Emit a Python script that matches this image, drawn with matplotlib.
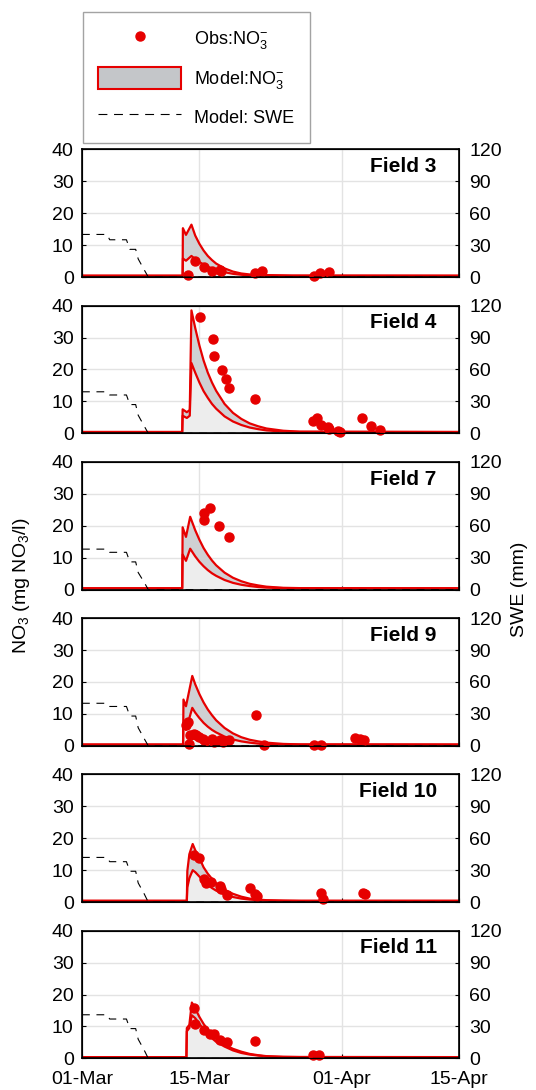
"""Nitrate in snowmelt runoff: observations, modelled band and SWE for six fields."""

import matplotlib

matplotlib.use("Agg")
import matplotlib.pyplot as plt
from matplotlib.lines import Line2D
from matplotlib.patches import Patch

plt.rcParams["font.family"] = ["Liberation Sans", "DejaVu Sans"]
plt.rcParams["mathtext.fontset"] = "custom"
plt.rcParams["mathtext.rm"] = "Liberation Sans"
plt.rcParams["mathtext.it"] = "Liberation Sans:italic"
plt.rcParams["mathtext.bf"] = "Liberation Sans:bold"

# days since 01-Mar
date_ticks = [0, 14, 31, 45]
date_labels = ["01-Mar", "15-Mar", "01-Apr", "15-Apr"]

field_names = ["Field 3", "Field 4", "Field 7", "Field 9", "Field 10", "Field 11"]

# modelled NO3 band (upper / lower edge), mg NO3/l
t3 = [0, 12.0, 12.03, 12.4, 13.05, 13.5, 14, 14.5, 15, 15.5, 16, 17, 18, 19, 20, 22, 25, 45]
up3 = [0.4, 0.4, 15.3, 13.2, 16.4, 13.0, 10.4, 8.3, 6.6, 5.3, 4.2, 2.7, 1.7, 1.1, 0.8, 0.6, 0.45, 0.4]
lo3 = [0.4, 0.4, 5.8, 5.1, 6.6, 5.6, 4.7, 3.9, 3.2, 2.7, 2.2, 1.5, 1.0, 0.7, 0.55, 0.45, 0.4, 0.4]

t4 = [0, 11.95, 12.0, 12.5, 12.85, 13.05, 13.5, 14, 14.5, 15, 15.5, 16, 17, 18, 19, 20, 21, 22, 24, 26, 45]
up4 = [0.4, 0.4, 7.5, 6.6, 7.3, 38.5, 33.0, 27.5, 22.8, 19.0, 15.9, 13.3, 9.2, 6.4, 4.5, 3.1, 2.2, 1.5, 0.8, 0.5, 0.4]
lo4 = [0.4, 0.4, 5.5, 4.8, 5.5, 22.0, 19.0, 15.9, 13.2, 11.1, 9.2, 7.7, 5.3, 3.7, 2.6, 1.8, 1.3, 0.9, 0.55, 0.45, 0.4]

t7 = [0, 11.95, 12.0, 12.4, 12.9, 13.5, 14, 14.5, 15, 15.5, 16, 17, 18, 19, 20, 21, 22, 24, 26, 45]
up7 = [0.4, 0.4, 19.5, 16.5, 22.8, 18.6, 15.6, 13.0, 10.9, 9.1, 7.6, 5.3, 3.7, 2.6, 1.8, 1.3, 0.9, 0.55, 0.45, 0.4]
lo7 = [0.4, 0.4, 11.0, 9.0, 12.8, 10.4, 8.7, 7.3, 6.1, 5.1, 4.3, 3.0, 2.1, 1.5, 1.1, 0.8, 0.6, 0.45, 0.4, 0.4]

t9 = [0, 12.05, 12.1, 12.4, 13.15, 13.5, 14, 14.5, 15, 15.5, 16, 17, 18, 19, 20, 21, 22, 24, 26, 45]
up9 = [0.4, 0.4, 14.5, 12.4, 21.9, 19.3, 16.2, 13.6, 11.4, 9.6, 8.0, 5.6, 3.9, 2.7, 1.9, 1.4, 1.0, 0.6, 0.45, 0.4]
lo9 = [0.4, 0.4, 7.2, 5.0, 11.9, 10.4, 8.7, 7.2, 6.0, 5.0, 4.2, 2.9, 2.0, 1.4, 1.0, 0.7, 0.55, 0.45, 0.4, 0.4]

t10 = [0, 12.5, 12.56, 12.8, 13.2, 13.5, 14, 14.5, 15, 15.5, 16, 17, 18, 19, 20, 21, 22, 24, 26, 45]
up10 = [0.4, 0.4, 9.7, 15.0, 18.2, 16.3, 13.8, 10.9, 8.9, 7.3, 5.9, 3.9, 2.6, 1.7, 1.1, 0.8, 0.6, 0.45, 0.4, 0.4]
lo10 = [0.4, 0.4, 4.6, 7.5, 10.0, 9.4, 8.0, 6.6, 5.4, 4.4, 3.6, 2.4, 1.6, 1.1, 0.8, 0.6, 0.5, 0.45, 0.4, 0.4]

t11 = [0, 12.45, 12.5, 12.8, 13.1, 13.5, 14, 14.5, 15, 15.5, 16, 17, 18, 19, 20, 21, 22, 24, 26, 45]
up11 = [0.4, 0.4, 9.5, 10.5, 17.5, 15.6, 13.0, 10.8, 9.0, 7.5, 6.2, 4.3, 3.0, 2.1, 1.4, 1.0, 0.7, 0.5, 0.45, 0.4]
lo11 = [0.4, 0.4, 8.5, 9.5, 13.5, 12.6, 10.8, 9.1, 7.6, 6.3, 5.2, 3.7, 2.5, 1.7, 1.2, 0.9, 0.6, 0.45, 0.4, 0.4]

# observed NO3
obs_t3 = [12.6, 13.5, 14.5, 15.5, 16.4, 16.6, 20.6, 21.5, 27.7, 28.4, 29.4]
obs_v3 = [0.5, 5.1, 3.0, 1.9, 2.3, 1.8, 1.3, 1.8, 0.4, 1.3, 1.7]

obs_t4 = [14.1, 15.6, 15.8, 16.7, 17.2, 17.5, 20.6, 27.5, 28.0, 28.5, 29.3, 29.5, 30.5, 30.8, 33.4, 34.5, 35.5]
obs_v4 = [36.5, 29.5, 24.3, 19.8, 17.0, 14.3, 10.7, 3.9, 4.7, 2.7, 2.0, 1.4, 0.8, 0.5, 4.7, 2.2, 0.9]

obs_t7 = [14.5, 14.6, 15.3, 16.3, 17.5]
obs_v7 = [21.8, 24.0, 25.5, 19.8, 16.5]

obs_t9 = [12.4, 12.6, 12.7, 12.9, 13.3, 13.6, 14.0, 14.4, 14.7, 15.5, 15.7, 16.5, 16.8, 17.2, 17.5,
          20.7, 21.7, 27.7, 28.5, 32.6, 33.1, 33.6]
obs_v9 = [6.6, 7.4, 0.5, 3.5, 3.8, 3.5, 2.9, 2.1, 1.4, 2.1, 1.1, 1.7, 1.1, 1.4, 1.7,
          9.6, 0.2, 0.2, 0.2, 2.4, 2.1, 1.7]

obs_t10 = [13.4, 13.9, 14.5, 14.8, 15.4, 16.4, 16.6, 17.3, 20.0, 20.6, 20.9, 28.5, 28.7, 33.5, 33.8]
obs_v10 = [14.8, 13.8, 7.1, 6.1, 6.3, 5.1, 4.1, 2.2, 4.3, 2.6, 2.0, 2.9, 1.0, 2.9, 2.6]

obs_t11 = [13.4, 13.5, 14.6, 15.3, 15.8, 16.5, 17.3, 20.6, 27.5, 28.3]
obs_v11 = [15.9, 10.7, 8.8, 7.5, 7.5, 5.8, 5.0, 5.5, 1.0, 1.0]

# modelled snow water equivalent, mm
swe_t = [0, 3.0, 3.3, 5.3, 5.7, 6.4, 6.7, 7.4, 7.9, 45]
swe3 = [40, 40, 35, 35, 26, 26, 17, 7, 0, 0]
swe4 = [39, 39, 36, 36, 27, 27, 17, 7, 0, 0]
swe7 = [38, 38, 35, 35, 26, 26, 16, 7, 0, 0]
swe9 = [40, 40, 37, 37, 28, 28, 17, 7, 0, 0]
swe10 = [42, 42, 38, 38, 29, 29, 18, 8, 0, 0]
swe11 = [41, 41, 37, 37, 28, 28, 18, 8, 0, 0]

panels = [
    (t3, up3, lo3, obs_t3, obs_v3, swe3),
    (t4, up4, lo4, obs_t4, obs_v4, swe4),
    (t7, up7, lo7, obs_t7, obs_v7, swe7),
    (t9, up9, lo9, obs_t9, obs_v9, swe9),
    (t10, up10, lo10, obs_t10, obs_v10, swe10),
    (t11, up11, lo11, obs_t11, obs_v11, swe11),
]

red = "#e60000"
fs = 14

fig = plt.figure(figsize=(5.36, 10.9), dpi=100)
gs = fig.add_gridspec(6, 1, left=0.153, right=0.857, top=0.863, bottom=0.029, hspace=0.224)

for i, (name, (t, up, lo, ot, ov, swe)) in enumerate(zip(field_names, panels)):
    ax = fig.add_subplot(gs[i])
    ax.fill_between(t, 0, lo, color="#ededed", lw=0)
    ax.fill_between(t, lo, up, color="#cfd0d3", lw=0)
    ax.plot(t, up, color=red, lw=1.6)
    ax.plot(t, lo, color=red, lw=1.6)
    ax.plot(ot, ov, "o", color=red, ms=6.5, clip_on=False, zorder=5)

    ax.set_xlim(0, 45)
    ax.set_ylim(0, 40)
    ax.set_yticks([0, 10, 20, 30, 40])
    ax.set_xticks(date_ticks)
    if i == len(panels) - 1:
        ax.set_xticklabels(date_labels)
    else:
        ax.set_xticklabels([])
    ax.grid(True, color="#e3e3e3", lw=1.0)
    ax.set_axisbelow(True)
    ax.tick_params(axis="y", direction="in", length=3, labelsize=fs, pad=6)
    ax.tick_params(axis="x", direction="in", length=3, labelsize=fs, pad=9)
    for sp in ax.spines.values():
        sp.set_linewidth(1.2)
    ax.text(0.94, 0.865, name, transform=ax.transAxes, ha="right", va="center",
            fontsize=15, fontweight="bold")

    ax2 = ax.twinx()
    ax2.plot(swe_t, swe, color="k", lw=0.8, dashes=(7, 6))
    ax2.set_ylim(0, 120)
    ax2.set_yticks([0, 30, 60, 90, 120])
    ax2.tick_params(direction="in", length=3, labelsize=fs, pad=7)

fig.text(0.041, 0.463, "NO$_3$ (mg NO$_3$/l)", rotation=90, ha="center", va="center", fontsize=fs)
fig.text(0.970, 0.459, "SWE (mm)", rotation=90, ha="center", va="center", fontsize=fs)

handles = [
    Line2D([], [], marker="o", color=red, ls="none", ms=6.5),
    Patch(facecolor="#c4c6c9", edgecolor=red, lw=1.5),
    Line2D([], [], color="k", lw=0.8, dashes=(8, 6)),
]
labels = ["Obs:NO$_3^{-}$", "Model:NO$_3^{-}$", "Model: SWE"]
leg = fig.legend(handles, labels, loc="upper left", bbox_to_anchor=(0.155, 0.989),
                 fontsize=13, frameon=True, fancybox=False, edgecolor="#8c8c8c",
                 handlelength=4.6, handleheight=1.5, labelspacing=0.85, borderpad=0.85,
                 handletextpad=0.7, borderaxespad=0)
leg.get_frame().set_linewidth(1.0)

fig.savefig("out.png", dpi=100)
plt.close(fig)
